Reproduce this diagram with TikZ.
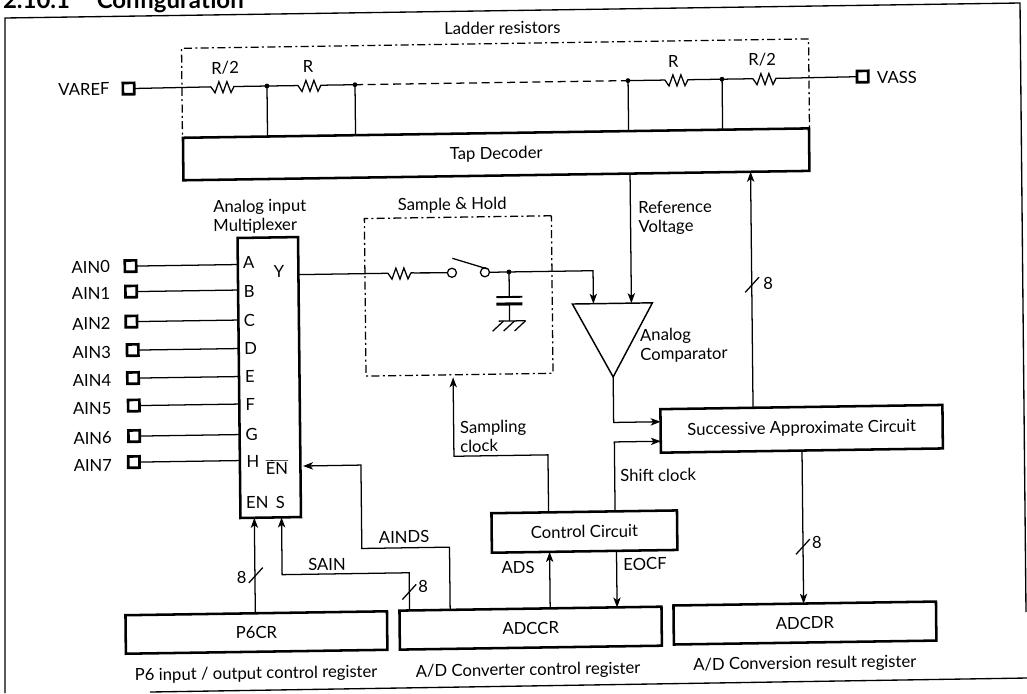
\documentclass[tikz,border=0pt]{standalone}
\usepackage{fontspec}
\setmainfont{Lato}
\usetikzlibrary{arrows.meta}
\tikzset{
  every node/.style={transform shape,inner sep=0pt,outer sep=0pt,font=\fontsize{12.5}{14.25}\selectfont},
  wire/.style={line width=0.95pt,line join=miter},
  arrowwire/.style={wire,-{Stealth[length=7.5pt,width=5.5pt,inset=2pt]}},
  block/.style 2 args={draw,line width=1.9pt,minimum width=#1*0.75pt,minimum height=#2*0.75pt},
  dashbox/.style 2 args={draw,line width=0.95pt,dash pattern=on 6pt off 2.5pt on 1.5pt off 2.5pt,minimum width=#1*0.75pt,minimum height=#2*0.75pt},
  padbox/.style={draw,line width=2pt,minimum size=8.5pt},
  dotmark/.style={circle,fill=black,minimum size=3.6pt},
  openc/.style={circle,draw,line width=0.95pt,minimum size=6.8pt},
  res/.pic={
    \draw[wire] (0,0)--(4,6)--(8,-5)--(12,6)--(16,-5)--(20,6)--(23,0)--(26,0);
    \coordinate (-l) at (0,0);
    \coordinate (-r) at (26,0);
  },
  slash/.pic={\draw[wire] (-7,7.5)--(7,-7.5);}
}
\begin{document}
\begin{tikzpicture}[x=0.75pt,y=-0.75pt]
\useasboundingbox (0,0) rectangle (1027,693);
% outer frame
\draw[line width=1pt] (5,693)--(5,18)--(1020,3)--(1026,612);
\draw[line width=1pt] (150,692)--(1027,678);
\node[anchor=base west,font=\fontsize{18}{20}\bfseries\selectfont] (title) at (3,8) {2.10.1\hspace{20pt}Configuration};
\begin{scope}[cm={1,0.015,-0.0105,1,(0,0)}]
% ladder section
\node[dashbox={627}{89.5}] (ladder) at (494.5,95.75) {};
\node (ladderlbl) at (502,35.5) {Ladder resistors};
\node[block={626}{42.5}] (tap) at (494.5,161.75) {Tap Decoder};
\node[padbox] (vref) at (127.6,90.5) {};
\node[anchor=center] (vreflbl) at (83,90.5) {VAREF};
\node[padbox] (vss) at (861.7,89.5) {};
\node (vsslbl) at (896,91) {VASS};
\pic (r1) at (210,90) {res};
\pic (r2) at (297,90) {res};
\pic (r3) at (664,90) {res};
\pic (r4) at (752,90) {res};
\node (r1l) at (224.3,71.4) {R/2};
\node (r2l) at (307.3,71.4) {R};
\node (r3l) at (672.4,71.4) {R};
\node (r4l) at (761.4,71.4) {R/2};
\node[dotmark] (d1) at (266,90) {};
\node[dotmark] (d2) at (354,90) {};
\node[dotmark] (d3) at (627,90) {};
\node[dotmark] (d4) at (721,90) {};
\draw[wire] (vref)--(r1-l);
\draw[wire] (r1-r)--(d1.center)--(r2-l);
\draw[wire] (r2-r)--(d2.center);
\draw[wire,dash pattern=on 6pt off 3.5pt] (d2.center)--(d3.center);
\draw[wire] (d3.center)--(r3-l);
\draw[wire] (r3-r)--(d4.center)--(r4-l);
\draw[wire] (r4-r)--(vss);
\draw[wire] (d1.center)--(d1.center |- tap.north);
\draw[wire] (d2.center)--(d2.center |- tap.north);
\draw[wire] (d3.center)--(d3.center |- tap.north);
\draw[wire] (d4.center)--(d4.center |- tap.north);
% multiplexer
\node[block={60.5}{280}] (mux) at (265.25,381.5) {};
\node[align=left,anchor=west] (muxlbl) at (211,220.5) {Analog input\\Multiplexer};
\foreach \nm/\yy/\lyy/\px/\lx/\pin/\pinx/\piny in {
  0/268/268.4/127.7/88/A/246/266,
  1/293.5/295/128/88/B/246/295,
  2/323.5/325/128/88/C/246/324,
  3/352/353.5/129/88/D/247/352,
  4/380/382/129/88/E/246/380,
  5/407.5/410/129.5/88/F/246/408,
  6/438/439.5/129.5/88/G/247/438,
  7/464/467/129/88/H/248/465.5}{
  \node[padbox] (ain\nm) at (\px,\yy) {};
  \node (ainl\nm) at (\lx,\lyy) {AIN\nm};
  \node (pin\nm) at (\pinx,\piny) {\pin};
  \draw[wire] (ain\nm)--(mux.west |- ain\nm);
}
\node (piny) at (276,276) {Y};
\node (pinenb) at (272,471) {$\overline{\hbox{EN}}$};
\node (pinen) at (252,506.5) {EN};
\node (pins) at (275,507) {S};
% sample and hold
\node[dashbox={187}{157.5}] (sh) at (455.5,302.75) {};
\node (shlbl) at (450,212) {Sample \& Hold};
\coordinate (yout) at (295.5,279);
\pic (r5) at (385,279) {res};
\node[openc] (swa) at (449,279.5) {};
\node[openc] (swb) at (482,279.5) {};
\node[dotmark] (d5) at (506,279.5) {};
\coordinate (swtip) at (449.5,265);
\coordinate (swend) at (484,276);
\draw[wire] (yout)--(r5-l);
\draw[wire] (r5-r)--(swa);
\draw[wire] (swtip)--(swend);
% capacitor and ground
\coordinate (capa) at (506,304.5);
\coordinate (capb) at (506,311.5);
\coordinate (gnd) at (506,328.5);
\draw[wire] (d5.center)--(capa);
\draw[line width=1.4pt] ([shift={(-13,0)}]capa)--([shift={(13,0)}]capa);
\draw[line width=2.3pt] ([shift={(-13,0)}]capb)--([shift={(13,0)}]capb);
\draw[wire] (capb)--(gnd);
\draw[wire] ([shift={(-11,0)}]gnd)--([shift={(16,0)}]gnd);
\foreach \hx in {-6,5,16}{\draw[wire] ([shift={(\hx,0)}]gnd)--([shift={(\hx-11,10)}]gnd);}
% comparator
\coordinate (cl) at (569,312.5);
\coordinate (cr) at (649,312.5);
\coordinate (cap) at (609,386);
\draw[line width=1.1pt,line join=miter] (cl)--(cr)--(cap)--cycle;
\coordinate (cin1) at (590,312.5);
\coordinate (cin2) at (628,312.5);
\coordinate (bend1) at (590,279.5);
\draw[wire] (swb)--(d5.center);
\draw[arrowwire] (d5.center)--(bend1)--(cin1);
\draw[arrowwire] (tap.south -| cin2)--(cin2);
\node[align=left,anchor=west] (reflbl) at (636,228) {Reference\\Voltage};
\node[align=left,anchor=west] (cmplbl) at (636.5,355.5) {Analog\\Comparator};
% successive approximate
\node[block={282}{43.5}] (sac) at (797,440.75) {Successive Approximate Circuit};
\coordinate (sacin1) at (656,431.5);
\coordinate (sacin2) at (656,451);
\draw[arrowwire] (cap)--(cap |- sacin1)--(sacin1);
% control
\node[block={185.5}{39.5}] (ctl) at (578.75,540.25) {Control Circuit};
\coordinate (ctlshift) at (609.5,520.5);
\draw[arrowwire] (ctlshift)--(ctlshift |- sacin2)--(sacin2);
\node (shiftlbl) at (653,485) {Shift clock};
\coordinate (tapup) at (748.5,419);
\draw[arrowwire] (tapup)--(tapup |- tap.south);
\pic at (749,296) {slash};
\node (n8a) at (765,294.5) {8};
% registers
\node[block={262}{39}] (adccr) at (524,636) {ADCCR};
\node[block={261.5}{38.5}] (p6cr) at (249.75,636.25) {P6CR};
\node[block={262.5}{39}] (adcdr) at (798.25,635) {ADCDR};
% sampling clock
\coordinate (ctlsamp) at (543,520.5);
\coordinate (shclk) at (449,384);
\draw[arrowwire] (ctlsamp)--(ctlsamp |- 0,463)--(shclk |- 0,463)--(shclk);
\node[align=left,anchor=west] (samplbl) at (455.5,443.5) {Sampling\\clock};
% ADS, EOCF
\coordinate (adsa) at (543.6,616.5);
\draw[arrowwire] (adsa)--(adsa |- ctl.south);
\node (adslbl) at (512,575) {ADS};
\coordinate (eoa) at (610.5,560);
\draw[arrowwire] (eoa)--(eoa |- adccr.north);
\node (eolbl) at (639,573.6) {EOCF};
% AINDS
\coordinate (aindsa) at (443.6,616.5);
\coordinate (enbpin) at (298,470.4);
\draw[arrowwire] (aindsa)--(aindsa |- 0,553.8)--(356,553.8)--(356,470.4)--(enbpin);
\node (aindslbl) at (398.4,543) {AINDS};
% SAIN
\coordinate (saina) at (403,616.5);
\coordinate (spin) at (276,521.5);
\draw[arrowwire] (saina)--(saina |- 0,578.8)--(spin |- 0,578.8)--(spin);
\node (sainlbl) at (321,569) {SAIN};
\pic at (403,598) {slash};
\node (n8b) at (417,593) {8};
% P6CR to EN
\coordinate (p6o) at (248.8,617);
\draw[arrowwire] (p6o)--(p6o |- mux.south);
\pic at (249.7,579) {slash};
\node (n8c) at (235.6,580.6) {8};
% SAC to ADCDR
\coordinate (saco) at (797,462.5);
\draw[arrowwire] (saco)--(saco |- adcdr.north);
\pic at (797,558.7) {slash};
\node (n8d) at (811,555) {8};
% captions
\node (cap1) at (249,678) {P6 input / output control register};
\node (cap2) at (521,678.6) {A/D Converter control register};
\node (cap3) at (797.7,676) {A/D Conversion result register};
\end{scope}
\end{tikzpicture}
\end{document}
